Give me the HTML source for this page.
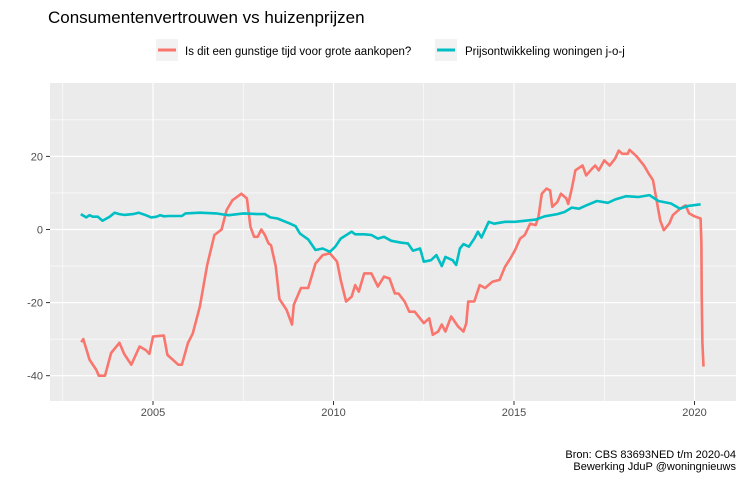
<!DOCTYPE html>
<html><head><meta charset="utf-8"><style>
body{margin:0;background:#fff;}
svg{display:block;font-family:"Liberation Sans",Arial,sans-serif;}
</style></head><body>
<svg id="chart" width="744" height="480" viewBox="0 0 744 480">
<rect width="744" height="480" fill="#fff"/>
<text x="48" y="23" font-size="17" fill="#000">Consumentenvertrouwen vs huizenprijzen</text>
<g>
 <g>
  <rect x="156" y="39" width="22" height="22" fill="#f2f2f2"/>
  <line x1="158" y1="50" x2="176" y2="50" stroke="#F8766D" stroke-width="3"/>
  <text x="185" y="55" font-size="11.5" fill="#000">Is dit een gunstige tijd voor grote aankopen?</text>
 </g>
 <g>
  <rect x="435" y="39" width="22" height="22" fill="#f2f2f2"/>
  <line x1="437" y1="50" x2="455" y2="50" stroke="#00BFC4" stroke-width="3"/>
  <text x="465" y="55" font-size="11.5" fill="#000">Prijsontwikkeling woningen j-o-j</text>
 </g>
</g>
<rect x="50" y="83" width="686" height="318" fill="#ebebeb"/>
<g id="grid"></g>
<g id="axes"></g>
<g id="series"></g>
<text x="736" y="458" font-size="11" text-anchor="end" fill="#000">Bron: CBS 83693NED t/m 2020-04</text>
<text x="736" y="470" font-size="11" text-anchor="end" fill="#000">Bewerking JduP @woningnieuws</text>
</svg>
<script>
const xTicks=[2005,2010,2015,2020];
const yTicks=[-40,-20,0,20];
const consumerT=[2003.01,2003.07,2003.24,2003.43,2003.5,2003.67,2003.84,2004.07,2004.2,2004.4,2004.63,2004.8,2004.9,2005.0,2005.3,2005.4,2005.7,2005.8,2005.97,2006.1,2006.3,2006.5,2006.7,2006.9,2007.04,2007.2,2007.45,2007.6,2007.7,2007.8,2007.9,2008.0,2008.1,2008.2,2008.27,2008.4,2008.5,2008.7,2008.85,2008.9,2009.1,2009.3,2009.5,2009.7,2009.9,2010.1,2010.2,2010.35,2010.5,2010.6,2010.7,2010.85,2011.05,2011.23,2011.4,2011.55,2011.7,2011.8,2011.97,2012.1,2012.25,2012.5,2012.65,2012.75,2012.9,2013.0,2013.1,2013.26,2013.45,2013.6,2013.68,2013.73,2013.9,2014.05,2014.2,2014.4,2014.6,2014.75,2014.9,2015.03,2015.17,2015.3,2015.45,2015.6,2015.68,2015.77,2015.9,2016.0,2016.06,2016.2,2016.3,2016.45,2016.5,2016.6,2016.7,2016.9,2017.0,2017.15,2017.25,2017.35,2017.5,2017.65,2017.8,2017.9,2018.0,2018.15,2018.2,2018.4,2018.6,2018.73,2018.85,2018.95,2019.05,2019.15,2019.3,2019.4,2019.6,2019.75,2019.85,2020.0,2020.17,2020.19,2020.2,2020.22,2020.25];
const consumerV=[-30.8,-30,-35.6,-38.4,-40,-40,-33.8,-31,-34,-37,-32,-33,-34,-29.3,-29,-34.3,-37,-37,-31,-28.5,-21,-9.7,-1.5,0,5.3,8,9.8,8.5,0.7,-2,-2,0,-1.5,-3.8,-4.3,-10,-19,-22,-26,-20.6,-16,-16,-9.3,-7,-6.5,-8.8,-13.8,-19.7,-18.4,-15.2,-17,-12,-12,-15.6,-12.9,-13.4,-17.5,-17.5,-19.7,-22.5,-22.5,-25.6,-24.3,-28.8,-27.9,-26,-27.9,-23.8,-26.5,-27.9,-25.6,-19.7,-19.7,-15.2,-16,-14.3,-13.8,-10.2,-7.9,-5.6,-2.5,-1.5,1.6,1.2,3.5,9.8,11.2,10.7,6.2,7.5,9.8,8.5,7,11.2,16.2,17.5,14.8,16.5,17.5,16.2,18.9,17.5,19.4,21.6,20.7,20.7,21.8,20,17.5,15.3,13.5,8,2.5,-0.2,1.6,3.9,5.7,6.6,4.4,3.6,3,-3.8,-17.5,-31,-37.5];
const priceT=[2003.0,2003.15,2003.24,2003.33,2003.47,2003.6,2003.8,2003.94,2004.07,2004.2,2004.45,2004.6,2004.8,2004.95,2005.1,2005.2,2005.3,2005.45,2005.8,2005.9,2006.3,2006.75,2006.95,2007.1,2007.5,2007.9,2008.1,2008.25,2008.45,2008.8,2008.95,2009.07,2009.3,2009.5,2009.7,2009.9,2010.05,2010.2,2010.5,2010.6,2010.85,2011.05,2011.23,2011.4,2011.6,2011.88,2012.06,2012.2,2012.4,2012.5,2012.7,2012.85,2013.0,2013.1,2013.3,2013.4,2013.5,2013.6,2013.75,2013.9,2014.0,2014.1,2014.3,2014.45,2014.75,2015.03,2015.6,2015.85,2016.2,2016.4,2016.6,2016.8,2017.0,2017.3,2017.6,2017.8,2018.1,2018.45,2018.75,2019.0,2019.35,2019.6,2019.8,2020.17];
const priceV=[4.2,3.3,3.9,3.5,3.5,2.4,3.5,4.6,4.2,4,4.2,4.6,3.9,3.3,3.5,3.9,3.6,3.7,3.7,4.4,4.6,4.4,4.1,3.9,4.4,4.2,4.2,3.3,3,1.6,0.9,-1.1,-2.7,-5.6,-5.2,-6.1,-4.7,-2.5,-0.6,-1.3,-1.3,-1.5,-2.5,-2,-3.1,-3.6,-3.8,-5.8,-5.2,-8.8,-8.4,-7,-10,-7.5,-8.4,-9.7,-5.2,-4,-4.7,-2.5,-0.6,-2.2,2.1,1.6,2.1,2.1,2.7,3.6,4.2,4.8,6,5.7,6.6,7.8,7.3,8.2,9.1,8.9,9.4,7.8,7.1,5.7,6.4,6.9];

const NS='http://www.w3.org/2000/svg';
const L=50,R=736,T=83,B=401;
const x=t=>153+(t-2005)*36.1;
const y=v=>229.5-v*3.655;
function mk(tag,attrs,parent){const e=document.createElementNS(NS,tag);for(const k in attrs)e.setAttribute(k,attrs[k]);parent.appendChild(e);return e;}
const grid=document.getElementById('grid'),axes=document.getElementById('axes'),series=document.getElementById('series');
for(let i=0;i<xTicks.length;i++){
 const xm=x(xTicks[i]-2.5);
 if(xm>L){const m=mk('line',{x1:xm,x2:xm,y1:T,y2:B,stroke:'#fff','stroke-width':0.6},grid);
 
 }
}
{const xm=x(2022.5);if(xm<R){const m=mk('line',{x1:xm,x2:xm,y1:T,y2:B,stroke:'#fff','stroke-width':0.6},grid);}}
for(let i=0;i<yTicks.length;i++){
 const ym=y(yTicks[i]+10);
 const m=mk('line',{x1:L,x2:R,y1:ym,y2:ym,stroke:'#fff','stroke-width':0.6},grid);
 
 
}
{const ym=y(-50);if(ym<B){}}
xTicks.forEach(t=>{
 const g=mk('line',{x1:x(t),x2:x(t),y1:T,y2:B,stroke:'#fff','stroke-width':1.2},grid);
 
 
 const tk=mk('line',{x1:x(t),x2:x(t),y1:B,y2:B+4,stroke:'#333','stroke-width':1},axes);
 
 
 const lb=mk('text',{x:x(t),y:B+15,'font-size':11,'text-anchor':'middle',fill:'#4d4d4d'},axes);
 lb.textContent=t;
 
 
});
yTicks.forEach(v=>{
 const g=mk('line',{x1:L,x2:R,y1:y(v),y2:y(v),stroke:'#fff','stroke-width':1.2},grid);
 
 
 const tk=mk('line',{x1:L-4,x2:L,y1:y(v),y2:y(v),stroke:'#333','stroke-width':1},axes);
 
 
 const lb=mk('text',{x:L-7,y:y(v)+4,'font-size':11,'text-anchor':'end',fill:'#4d4d4d'},axes);
 lb.textContent=v;
 
 
});
function line(ts,vs,color,name){
 const d=ts.map((t,i)=>(i?'L':'M')+x(t).toFixed(1)+','+y(vs[i]).toFixed(1)).join('');
 const p=mk('path',{d:d,fill:'none',stroke:color,'stroke-width':2.6,'stroke-linejoin':'round'},series);
 
 
}
line(consumerT,consumerV,'#F8766D','consumer-confidence-line');
line(priceT,priceV,'#00BFC4','house-price-line');
</script>
</body></html>
